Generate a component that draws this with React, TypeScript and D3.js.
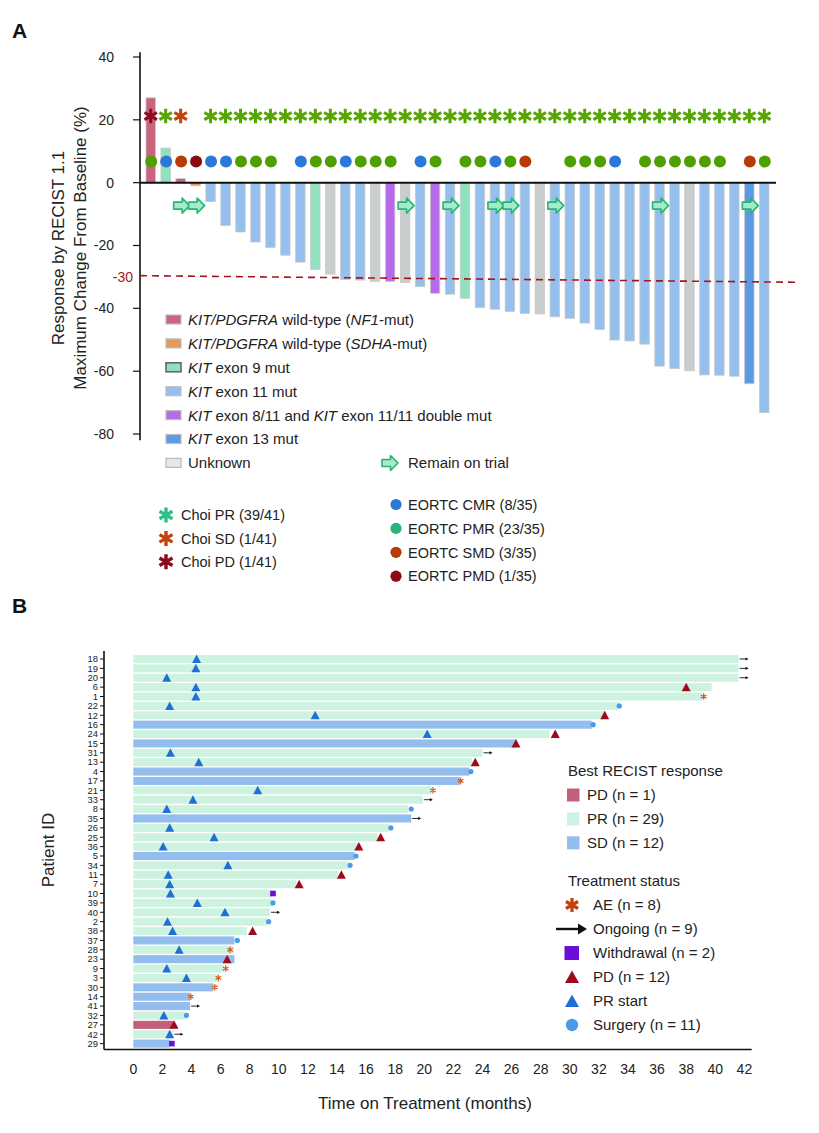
import React from 'react';
import * as d3 from 'd3';

const W = 819;
const H = 1133;
const FONT = "'Liberation Sans', Arial, Helvetica, sans-serif";

// ---------------- Panel A data ----------------
const responseValues = [27, 11, 1.3, -1, -6, -13.6, -15.7, -18.9, -20.6, -23.1, -25.3, -27.6, -29.1, -30.8, -31, -31.4, -31.4, -31.8, -33.1, -35.2, -35.5, -36.8, -39.8, -40.3, -41, -41.6, -41.8, -42.7, -43.2, -44.7, -46.7, -50.1, -50.4, -51.4, -58.4, -59.2, -59.9, -61.2, -61.3, -61.6, -64, -73.2];
const mutationGroups = ['NF1', 'E9', 'NF1', 'SDHA', 'E11', 'E11', 'E11', 'E11', 'E11', 'E11', 'E11', 'E9', 'UNK', 'E11', 'E11', 'UNK', 'DBL', 'UNK', 'E11', 'DBL', 'E11', 'E9', 'E11', 'E11', 'E11', 'E11', 'UNK', 'E11', 'E11', 'E11', 'E11', 'E11', 'E11', 'E11', 'E11', 'E11', 'UNK', 'E11', 'E11', 'E11', 'E13', 'E11'];
const choiResponse = ['PD', 'PR', 'SD', null, 'PR', 'PR', 'PR', 'PR', 'PR', 'PR', 'PR', 'PR', 'PR', 'PR', 'PR', 'PR', 'PR', 'PR', 'PR', 'PR', 'PR', 'PR', 'PR', 'PR', 'PR', 'PR', 'PR', 'PR', 'PR', 'PR', 'PR', 'PR', 'PR', 'PR', 'PR', 'PR', 'PR', 'PR', 'PR', 'PR', 'PR', 'PR'];
const eortcResponse = ['PMR', 'CMR', 'SMD', 'PMD', 'CMR', 'CMR', 'PMR', 'PMR', 'PMR', null, 'CMR', 'PMR', 'PMR', 'CMR', 'PMR', 'PMR', 'PMR', null, 'CMR', 'PMR', null, 'PMR', 'PMR', 'CMR', 'PMR', 'SMD', null, null, 'PMR', 'PMR', 'PMR', 'CMR', null, 'PMR', 'PMR', 'PMR', 'PMR', 'PMR', 'PMR', null, 'SMD', 'PMR'];
const remainOnTrial = [3, 4, 18, 21, 24, 25, 28, 35, 41];
const yTicksA = [40, 20, 0, -20, -40, -60, -80];
const thresholdLine = [-29.6, -31.7];

const mutationFill: Record<string, string> = {
  NF1: '#c9637e', SDHA: '#e39a5c', E9: '#8fe2bd', E11: '#95c0ee', DBL: '#b66be9', E13: '#5b9be6', UNK: '#c8cdcd',
};
const choiChartColor: Record<string, string> = { PR: '#55a603', SD: '#c2420e', PD: '#8b0c1d' };
const eortcChartColor: Record<string, string> = { CMR: '#2c78d9', PMR: '#4ea002', SMD: '#b83b06', PMD: '#8c0b16' };

const mutationLegend = [
  { key: 'NF1', fill: '#c9637e', stroke: '#bdbdbd', parts: [['KIT/PDGFRA', true], [' wild-type (', false], ['NF1', true], ['-mut)', false]] },
  { key: 'SDHA', fill: '#e39a5c', stroke: '#bdbdbd', parts: [['KIT/PDGFRA', true], [' wild-type (', false], ['SDHA', true], ['-mut)', false]] },
  { key: 'E9', fill: '#8fe2bd', stroke: '#666', parts: [['KIT', true], [' exon 9 mut', false]] },
  { key: 'E11', fill: '#95c0ee', stroke: '#bdbdbd', parts: [['KIT', true], [' exon 11 mut', false]] },
  { key: 'DBL', fill: '#b66be9', stroke: '#bdbdbd', parts: [['KIT', true], [' exon 8/11 and ', false], ['KIT', true], [' exon 11/11 double mut', false]] },
  { key: 'E13', fill: '#5b9be6', stroke: '#bdbdbd', parts: [['KIT', true], [' exon 13 mut', false]] },
  { key: 'UNK', fill: '#e4e8e8', stroke: '#b5b9b9', parts: [['Unknown', false]] },
];
const choiLegend = [
  { label: 'Choi PR (39/41)', color: '#2fc08a' },
  { label: 'Choi SD (1/41)', color: '#c2420e' },
  { label: 'Choi PD (1/41)', color: '#8b0c1d' },
];
const eortcLegend = [
  { label: 'EORTC CMR (8/35)', color: '#2c78d9' },
  { label: 'EORTC PMR (23/35)', color: '#2ab47a' },
  { label: 'EORTC SMD (3/35)', color: '#b83b06' },
  { label: 'EORTC PMD (1/35)', color: '#8c0b16' },
];

// ---------------- Panel B data ----------------
const patientIds = ['18', '19', '20', '6', '1', '22', '12', '16', '24', '15', '31', '13', '4', '17', '21', '33', '8', '35', '26', '25', '36', '5', '34', '11', '7', '10', '39', '40', '2', '38', '37', '28', '23', '9', '3', '30', '14', '41', '32', '27', '42', '29'];
const bestResponse = ['PR', 'PR', 'PR', 'PR', 'PR', 'PR', 'PR', 'SD', 'PR', 'SD', 'PR', 'PR', 'SD', 'SD', 'PR', 'PR', 'PR', 'SD', 'PR', 'PR', 'PR', 'SD', 'PR', 'PR', 'PR', 'PR', 'PR', 'PR', 'PR', 'PR', 'SD', 'PR', 'SD', 'PR', 'PR', 'SD', 'SD', 'SD', 'PR', 'PD', 'PR', 'SD'];
const monthsOnTreatment = [41.6, 41.6, 41.6, 39.75, 39.1, 33.3, 32.5, 31.5, 28.6, 26.3, 24.0, 23.3, 23.1, 22.45, 20.5, 19.9, 18.9, 19.1, 17.6, 16.8, 15.4, 15.2, 14.8, 14.1, 11.2, 9.5, 9.5, 9.4, 9.2, 7.8, 6.95, 6.9, 6.95, 6.2, 5.85, 5.5, 3.9, 3.9, 3.6, 2.75, 2.75, 2.5];
const ongoingIds = ['18', '19', '20', '31', '33', '35', '40', '41', '42'];
const prStartEvents: [string, number][] = [['18', 4.35], ['19', 4.3], ['20', 2.3], ['6', 4.3], ['1', 4.3], ['22', 2.5], ['12', 12.5], ['24', 20.2], ['31', 2.55], ['13', 4.5], ['21', 8.55], ['33', 4.1], ['8', 2.3], ['26', 2.5], ['25', 5.55], ['36', 2.05], ['34', 6.5], ['11', 2.4], ['7', 2.5], ['10', 2.55], ['39', 4.4], ['40', 6.3], ['2', 2.35], ['38', 2.7], ['28', 3.15], ['9', 2.3], ['3', 3.65], ['32', 2.1], ['42', 2.5]];
const pdEvents: [string, number][] = [['6', 38.0], ['12', 32.4], ['24', 29.0], ['15', 26.3], ['13', 23.5], ['25', 17.0], ['36', 15.5], ['11', 14.3], ['7', 11.4], ['38', 8.2], ['23', 6.45], ['27', 2.8]];
const surgeryEvents: [string, number][] = [['22', 33.4], ['16', 31.6], ['4', 23.2], ['8', 19.1], ['26', 17.7], ['5', 15.3], ['34', 14.9], ['39', 9.6], ['2', 9.3], ['37', 7.15], ['32', 3.65]];
const aeEvents: [string, number][] = [['1', 39.2], ['17', 22.5], ['21', 20.6], ['28', 6.65], ['9', 6.35], ['3', 5.85], ['30', 5.6], ['14', 3.95]];
const withdrawalEvents: [string, number][] = [['10', 9.6], ['29', 2.65]];
const xTicksB = [0, 2, 4, 6, 8, 10, 12, 14, 16, 18, 20, 22, 24, 26, 28, 30, 32, 34, 36, 38, 40, 42];

const responseFill: Record<string, string> = { PR: '#cdf3e0', SD: '#93bdee', PD: '#c2607b' };
const responseLegend = [
  { label: 'PD (n = 1)', color: '#c2607b' },
  { label: 'PR (n = 29)', color: '#cdf3e0' },
  { label: 'SD (n = 12)', color: '#93bdee' },
];
const statusLegend = ['AE (n = 8)', 'Ongoing (n = 9)', 'Withdrawal (n = 2)', 'PD (n = 12)', 'PR start', 'Surgery (n = 11)'];

const C_PRSTART = '#1f6fd8';
const C_PD = '#a0091b';
const C_SURG = '#4a9be8';
const C_AE = '#d35a1e';
const C_WD = '#6a0ed8';

function asterisk(r: number) {
  const t = r / 2;
  const u = t * Math.sqrt(3);
  return `M0,${-r}L0,${r}M${-u},${-t}L${u},${t}M${-u},${t}L${u},${-t}`;
}
function triangle(w: number, h: number) {
  return `M0,${-h / 2 - 0.5}L${w / 2},${h / 2}L${-w / 2},${h / 2}Z`;
}
const blockArrow = 'M-8,-3.5H0.5V-7.5L8,0L0.5,7.5V3.5H-8Z';

export default function App() {
  // ---- Panel A scales ----
  const ids = responseValues.map((_, i) => i + 1);
  const xA = d3.scaleBand<number>().domain(ids).range([143, 772]).paddingInner(0.37).paddingOuter(0.2);
  const yA = d3.scaleLinear().domain([-80, 40]).range([434, 57]);
  const cx = (i: number) => (xA(i) as number) + xA.bandwidth() / 2;

  // ---- Panel B scales ----
  const xB = d3.scaleLinear().domain([0, 42]).range([133.3, 744.4]);
  const yB = d3.scaleBand<string>().domain(patientIds).range([654.3, 1048.3]).paddingInner(0.14).paddingOuter(0.07);
  const cy = (id: string) => (yB(id) as number) + yB.bandwidth() / 2;
  const rowOf = (id: string) => patientIds.indexOf(id);

  const axisX = 140;

  return (
    <svg width={W} height={H} viewBox={`0 0 ${W} ${H}`} style={{ position: 'absolute', left: 0, top: 0, background: '#fff', fontFamily: FONT }}>
      <rect x={0} y={0} width={W} height={H} fill="#fff" />
      {/* Panel labels */}
      <text x={12} y={38} fontSize={21} fontWeight="bold" fill="#111">A</text>
      <text x={12} y={613} fontSize={21} fontWeight="bold" fill="#111">B</text>

      {/* ===== Panel A ===== */}
      <g>
        <line x1={axisX} x2={axisX} y1={yA(41.5)} y2={yA(-82)} stroke="#111" strokeWidth={1.6} />
        {yTicksA.map((t) => (
          <g key={t}>
            <line x1={axisX - 7} x2={axisX} y1={yA(t)} y2={yA(t)} stroke="#111" strokeWidth={1.2} />
            <text x={114} y={yA(t)} dy="0.35em" textAnchor="end" fontSize={14} fill="#222">{t}</text>
          </g>
        ))}
        <text x={133} y={yA(-30)} dy="0.35em" textAnchor="end" fontSize={14} fill="#a3171b">-30</text>
        <g transform={`translate(58, 248) rotate(-90)`}>
          <text textAnchor="middle" dy="0.35em" fontSize={17} fill="#222">Response by RECIST 1.1</text>
        </g>
        <g transform={`translate(80, 248) rotate(-90)`}>
          <text textAnchor="middle" dy="0.35em" fontSize={17} fill="#222">Maximum Change From Baseline (%)</text>
        </g>

        {responseValues.map((v, i) => {
          const id = i + 1;
          const y0 = yA(0);
          const y1 = yA(v);
          return (
            <rect key={id} x={xA(id)} y={Math.min(y0, y1)} width={xA.bandwidth()} height={Math.max(Math.abs(y1 - y0), 1)}
              fill={mutationFill[mutationGroups[i]]} stroke="#c9c9c9" strokeWidth={0.8} />
          );
        })}
        <line x1={axisX} x2={776} y1={yA(0)} y2={yA(0)} stroke="#111" strokeWidth={2} />
        <line x1={axisX} x2={797} y1={yA(thresholdLine[0])} y2={yA(thresholdLine[1])} stroke="#a3171b" strokeWidth={1.6} strokeDasharray="7,5" />

        {choiResponse.map((c, i) => c && (
          <path key={`c${i}`} d={asterisk(7.2)} transform={`translate(${cx(i + 1)},${yA(21.2)})`} stroke={choiChartColor[c]} strokeWidth={3} fill="none" />
        ))}
        {eortcResponse.map((e, i) => e && (
          <circle key={`e${i}`} cx={cx(i + 1) + 0.5} cy={yA(6.7)} r={6} fill={eortcChartColor[e]} />
        ))}
        {remainOnTrial.map((id) => (
          <path key={`r${id}`} d={blockArrow} transform={`translate(${cx(id) + 1},${yA(-7.3)})`} fill="#a6ebc9" stroke="#27b574" strokeWidth={1.6} strokeLinejoin="round" />
        ))}

        {mutationLegend.map((m, i) => {
          const y = 319.5 + i * 23.9;
          return (
            <g key={m.key}>
              <rect x={166} y={y - 4.5} width={15} height={9} fill={m.fill} stroke={m.stroke} strokeWidth={m.key === 'E9' ? 1.6 : 1.2} />
              <text x={188} y={y} dy="0.36em" fontSize={15} fill="#222">
                {m.parts.map((p, j) => (
                  <tspan key={j} fontStyle={p[1] ? 'italic' : 'normal'}>{p[0] as string}</tspan>
                ))}
              </text>
            </g>
          );
        })}
        <path d={blockArrow} transform={`translate(390,463)`} fill="#a6ebc9" stroke="#27b574" strokeWidth={1.6} strokeLinejoin="round" />
        <text x={408} y={463} dy="0.36em" fontSize={15} fill="#222">Remain on trial</text>

        {choiLegend.map((c, i) => {
          const y = 515 + i * 23.4;
          return (
            <g key={c.label}>
              <path d={asterisk(7.5)} transform={`translate(166,${y})`} stroke={c.color} strokeWidth={3.4} fill="none" />
              <text x={181} y={y} dy="0.36em" fontSize={14.5} fill="#222">{c.label}</text>
            </g>
          );
        })}
        {eortcLegend.map((c, i) => {
          const y = 504.5 + i * 23.9;
          return (
            <g key={c.label}>
              <circle cx={396} cy={y} r={5.6} fill={c.color} />
              <text x={408} y={y} dy="0.36em" fontSize={14.5} fill="#222">{c.label}</text>
            </g>
          );
        })}
      </g>

      {/* ===== Panel B ===== */}
      <g>
        {patientIds.map((id, i) => (
          <rect key={`b${id}`} x={xB(0)} y={yB(id)} width={xB(monthsOnTreatment[i]) - xB(0)} height={yB.bandwidth()} fill={responseFill[bestResponse[i]]} />
        ))}
        {ongoingIds.map((id) => {
          const x0 = xB(monthsOnTreatment[rowOf(id)]) + 1;
          const y = cy(id);
          return (
            <g key={`o${id}`}>
              <line x1={x0} x2={x0 + 7} y1={y} y2={y} stroke="#111" strokeWidth={0.9} />
              <path d={`M${x0 + 6},${y - 1.6}L${x0 + 9},${y}L${x0 + 6},${y + 1.6}Z`} fill="#111" />
            </g>
          );
        })}
        {surgeryEvents.map(([id, m]) => (
          <circle key={`s${id}`} cx={xB(m)} cy={cy(id)} r={2.6} fill={C_SURG} />
        ))}
        {withdrawalEvents.map(([id, m]) => (
          <rect key={`w${id}`} x={xB(m) - 2.8} y={cy(id) - 2.8} width={5.6} height={5.6} fill={C_WD} />
        ))}
        {aeEvents.map(([id, m]) => (
          <path key={`a${id}`} d={asterisk(3.2)} transform={`translate(${xB(m)},${cy(id)})`} stroke={C_AE} strokeWidth={1.2} fill="none" />
        ))}
        {prStartEvents.map(([id, m]) => (
          <path key={`p${id}`} d={triangle(9, 8)} transform={`translate(${xB(m)},${cy(id)})`} fill={C_PRSTART} />
        ))}
        {pdEvents.map(([id, m]) => (
          <path key={`d${id}`} d={triangle(9, 8)} transform={`translate(${xB(m)},${cy(id)})`} fill={C_PD} />
        ))}

        <line x1={104} x2={104} y1={651} y2={1049.5} stroke="#111" strokeWidth={1.6} />
        <line x1={104} x2={xB(42.5)} y1={1049.5} y2={1049.5} stroke="#111" strokeWidth={1.6} />
        {patientIds.map((id) => (
          <g key={`t${id}`}>
            <line x1={100} x2={104} y1={cy(id)} y2={cy(id)} stroke="#111" strokeWidth={1} />
            <text x={98} y={cy(id)} dy="0.35em" textAnchor="end" fontSize={9.4} fill="#222">{id}</text>
          </g>
        ))}
        {xTicksB.map((t) => (
          <text key={`x${t}`} x={xB(t)} y={1074} textAnchor="middle" fontSize={14} fill="#222">{t}</text>
        ))}
        <text x={425} y={1109} textAnchor="middle" fontSize={17} fill="#222">Time on Treatment (months)</text>
        <g transform="translate(48, 850) rotate(-90)">
          <text textAnchor="middle" dy="0.35em" fontSize={17} fill="#222">Patient ID</text>
        </g>

        <text x={568} y={771} dy="0.36em" fontSize={15} fill="#222">Best RECIST response</text>
        {responseLegend.map((r, i) => {
          const y = 795 + i * 23.9;
          return (
            <g key={r.label}>
              <rect x={567} y={y - 6.5} width={12.5} height={13} fill={r.color} />
              <text x={587} y={y} dy="0.36em" fontSize={15} fill="#222">{r.label}</text>
            </g>
          );
        })}
        <text x={568} y={881} dy="0.36em" fontSize={15} fill="#222">Treatment status</text>
        {statusLegend.map((label, i) => {
          const y = 905 + i * 24;
          let sym: React.ReactNode = null;
          if (i === 0) sym = <path d={asterisk(7)} transform={`translate(572,${y})`} stroke="#c2420e" strokeWidth={3.2} fill="none" />;
          if (i === 1) sym = (
            <g>
              <line x1={556} x2={580} y1={y} y2={y} stroke="#111" strokeWidth={2.4} />
              <path d={`M578,${y - 5.5}L587,${y}L578,${y + 5.5}Z`} fill="#111" />
            </g>
          );
          if (i === 2) sym = <rect x={564.5} y={y - 7} width={14.5} height={14} fill={C_WD} />;
          if (i === 3) sym = <path d={triangle(14, 12)} transform={`translate(572,${y})`} fill={C_PD} />;
          if (i === 4) sym = <path d={triangle(14, 12)} transform={`translate(572,${y})`} fill={C_PRSTART} />;
          if (i === 5) sym = <circle cx={572} cy={y} r={6.2} fill={C_SURG} />;
          return (
            <g key={label}>
              {sym}
              <text x={593} y={y} dy="0.36em" fontSize={15} fill="#222">{label}</text>
            </g>
          );
        })}
      </g>
    </svg>
  );
}
